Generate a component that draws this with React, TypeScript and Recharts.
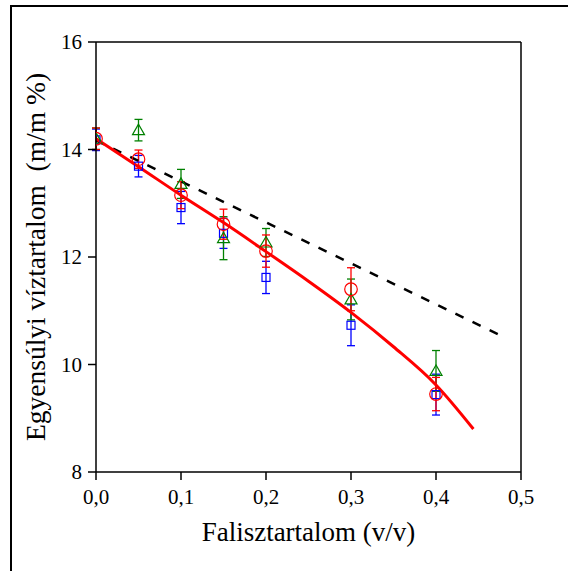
import React from 'react';
import { ComposedChart, Line, Scatter, XAxis, YAxis, ErrorBar } from 'recharts';

const FONT = 'Liberation Serif, serif';

// measured samples (v/v)
const xValues = [0, 0.05, 0.1, 0.15, 0.2, 0.3, 0.4];

// blue squares
const squareY = [14.18, 13.69, 12.92, 12.44, 11.62, 10.73, 9.44];
const squareErr = [0.2, 0.2, 0.3, 0.28, 0.3, 0.38, 0.38];

// red circles
const circleY = [14.2, 13.82, 13.15, 12.61, 12.11, 11.4, 9.45];
const circleErr = [0.2, 0.17, 0.25, 0.28, 0.3, 0.4, 0.31];

// green triangles
const triangleY = [14.2, 14.36, 13.36, 12.35, 12.27, 11.21, 9.88];
const triangleErr = [0.2, 0.2, 0.27, 0.4, 0.26, 0.38, 0.38];

// red fitted curve
const fitX = [0, 0.05, 0.1, 0.15, 0.2, 0.25, 0.3, 0.35, 0.4, 0.444];
const fitY = [14.2, 13.68, 13.15, 12.64, 12.1, 11.55, 10.97, 10.33, 9.62, 8.8];

// black dashed line
const dashX = [0, 0.48];
const dashY = [14.17, 10.51];

// axis ticks
const xMajor = [0, 0.1, 0.2, 0.3, 0.4, 0.5];
const xMinor = [0, 0.05, 0.1, 0.15, 0.2, 0.25, 0.3, 0.35, 0.4, 0.45, 0.5];
const yMajor = [8, 10, 12, 14, 16];
const yMinor = [8, 9, 10, 11, 12, 13, 14, 15, 16];

const toPoints = (xs: number[], ys: number[], errs?: number[]) =>
  xs.map((x, i) => ({ x, y: ys[i], err: errs ? errs[i] : 0 }));

const squares = toPoints(xValues, squareY, squareErr);
const circles = toPoints(xValues, circleY, circleErr);
const triangles = toPoints(xValues, triangleY, triangleErr);
const fitLine = toPoints(fitX, fitY);
const dashLine = toPoints(dashX, dashY);

const SquareMark = (props: any) => (
  <rect x={props.cx - 4} y={props.cy - 4} width={8} height={8} fill="none" stroke="#0000ff" strokeWidth={1.2} />
);

const CircleMark = (props: any) => (
  <circle cx={props.cx} cy={props.cy} r={6.3} fill="none" stroke="#ff0000" strokeWidth={1.2} />
);

const TriangleMark = (props: any) => {
  const { cx, cy } = props;
  return (
    <polygon
      points={`${cx},${cy - 6} ${cx - 6},${cy + 4.5} ${cx + 6},${cy + 4.5}`}
      fill="none"
      stroke="#008000"
      strokeWidth={1.2}
    />
  );
};

const fmtX = (v: number) => v.toFixed(1).replace('.', ',');

const tickStyle = { fontSize: 21, fill: '#000', fontFamily: FONT };

export default function App() {
  return (
    <div style={{ position: 'absolute', left: 0, top: 0, width: 568, height: 571, overflow: 'hidden', background: '#fff', fontFamily: FONT }}>
      <div style={{ position: 'absolute', left: 10, top: 5, width: 600, height: 600, border: '2px solid #000' }} />
      <div style={{ position: 'absolute', left: 0, top: 0 }}>
        <ComposedChart width={568} height={571} margin={{ top: 42, right: 47, bottom: 0, left: 0 }}>
          {/* inner minor ticks and the frame edges */}
          <XAxis xAxisId="top" orientation="top" mirror type="number" dataKey="x" domain={[0, 0.5]} allowDataOverflow
            ticks={xMinor} tick={false} tickSize={4} stroke="#000" strokeWidth={1.5} />
          <YAxis yAxisId="right" orientation="right" mirror type="number" domain={[8, 16]} allowDataOverflow
            ticks={yMinor} tick={false} tickSize={4} stroke="#000" strokeWidth={1.5} />
          <XAxis xAxisId="inner" orientation="bottom" mirror type="number" dataKey="x" domain={[0, 0.5]} allowDataOverflow
            ticks={xMinor} tick={false} tickSize={4} axisLine={false} stroke="#000" strokeWidth={1.2} />
          <YAxis yAxisId="inner" orientation="left" mirror type="number" domain={[8, 16]} allowDataOverflow
            ticks={yMinor} tick={false} tickSize={4} axisLine={false} stroke="#000" strokeWidth={1.2} />

          <XAxis
            type="number"
            dataKey="x"
            domain={[0, 0.5]}
            allowDataOverflow
            ticks={xMajor}
            tickFormatter={fmtX}
            height={99}
            tickSize={8}
            tickMargin={9}
            stroke="#000"
            strokeWidth={1.5}
            tick={tickStyle}
            label={{ value: 'Falisztartalom (v/v)', position: 'insideBottom', offset: 30, fill: '#000', fontSize: 27, fontFamily: FONT }}
          />
          <YAxis
            type="number"
            domain={[8, 16]}
            allowDataOverflow
            ticks={yMajor}
            width={96}
            tickSize={8}
            tickMargin={6}
            stroke="#000"
            strokeWidth={1.5}
            tick={tickStyle}
            label={{
              value: 'Egyensúlyi víztartalom\u00a0 (m/m %)',
              angle: -90,
              position: 'insideLeft',
              offset: 35,
              fill: '#000',
              fontSize: 27.5,
              fontFamily: FONT,
              style: { textAnchor: 'middle' },
            }}
          />

          <Scatter data={squares} dataKey="y" shape={SquareMark} isAnimationActive={false}>
            <ErrorBar dataKey="err" direction="y" width={4} stroke="#0000ff" strokeWidth={1.3} isAnimationActive={false} />
          </Scatter>
          <Scatter data={triangles} dataKey="y" shape={TriangleMark} isAnimationActive={false}>
            <ErrorBar dataKey="err" direction="y" width={4} stroke="#008000" strokeWidth={1.3} isAnimationActive={false} />
          </Scatter>
          <Scatter data={circles} dataKey="y" shape={CircleMark} isAnimationActive={false}>
            <ErrorBar dataKey="err" direction="y" width={4} stroke="#ff0000" strokeWidth={1.3} isAnimationActive={false} />
          </Scatter>

          <Line data={dashLine} dataKey="y" type="linear" stroke="#000" strokeWidth={2.5} strokeDasharray="9 10"
            dot={false} activeDot={false} isAnimationActive={false} />
          <Line data={fitLine} dataKey="y" type="monotone" stroke="#ff0000" strokeWidth={3}
            dot={false} activeDot={false} isAnimationActive={false} />
        </ComposedChart>
      </div>
    </div>
  );
}
